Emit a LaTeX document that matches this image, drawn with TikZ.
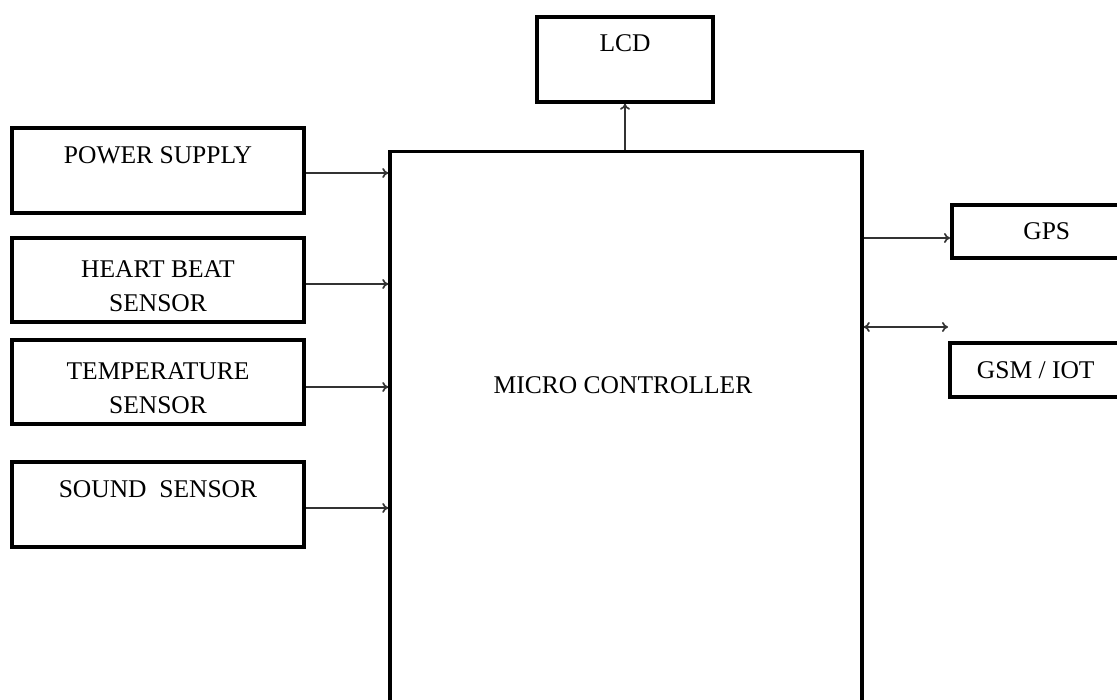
\documentclass[tikz,border=0pt]{standalone}
\usepackage{fontspec}
\setmainfont{Liberation Serif}
\usetikzlibrary{arrows.meta}
\tikzset{
  blk/.style={draw=black, line width=3.5pt, fill=white, inner sep=0pt, align=center,
    font=\fontsize{25.5}{34}\selectfont},
  conn/.style={line width=1.7pt, draw=black!80, -{To[length=6pt,width=10pt]}},
  bconn/.style={line width=1.7pt, draw=black!80, {To[length=6pt,width=10pt]}-{To[length=6pt,width=10pt]}},
  txt/.style={inner sep=0pt, font=\fontsize{25.5}{34}\selectfont}
}
\begin{document}
\begin{tikzpicture}[x=1pt,y=-1pt]
\useasboundingbox (0,0) rectangle (1117,700);
% microcontroller (extends below the picture)
\node[blk, minimum width=472pt, minimum height=600pt, anchor=north] (mc) at (626,150) {};
\node[txt] (mclabel) at (623,385) {MICRO CONTROLLER};
% left blocks
\node[blk, minimum width=292pt, minimum height=85pt] (ps) at (158,170.5) {POWER SUPPLY\\[-14pt] \strut};
\node[blk, minimum width=292pt, minimum height=84pt] (hb) at (158,280) {\strut\\[-28pt]HEART BEAT\\SENSOR};
\node[blk, minimum width=292pt, minimum height=84pt] (ts) at (158,382) {\strut\\[-28pt]TEMPERATURE\\SENSOR};
\node[blk, minimum width=292pt, minimum height=85pt] (ss) at (158,504.5) {SOUND\ \ SENSOR\\[-14pt] \strut};
% top block
\node[blk, minimum width=176pt, minimum height=85pt] (lcd) at (625,59.5) {LCD\\[-12pt] \strut};
% right blocks (cut off at right edge)
\node[blk, minimum width=190pt, minimum height=53pt, anchor=west] (gps) at (950,231.5) {GPS};
\node[blk, minimum width=192pt, minimum height=54pt, anchor=west] (gsm) at (948,370) {\hspace{-20pt}GSM / IOT};
% connectors
\draw[conn] ([yshift=-2.5pt]ps.east) -- ([yshift=-2.5pt]ps.east -| mc.west);
\draw[conn] ([yshift=-4pt]hb.east) -- ([yshift=-4pt]hb.east -| mc.west);
\draw[conn] ([yshift=-5pt]ts.east) -- ([yshift=-5pt]ts.east -| mc.west);
\draw[conn] ([yshift=-3.5pt]ss.east) -- ([yshift=-3.5pt]ss.east -| mc.west);
\draw[conn] (lcd.south |- mc.north) -- (lcd.south);
\draw[conn] ([yshift=-6.5pt]gps.west -| mc.east) -- ([yshift=-6.5pt]gps.west);
\coordinate (gsmlink) at (948,327);
\draw[bconn] (gsmlink -| mc.east) -- (gsmlink);
\end{tikzpicture}
\end{document}
